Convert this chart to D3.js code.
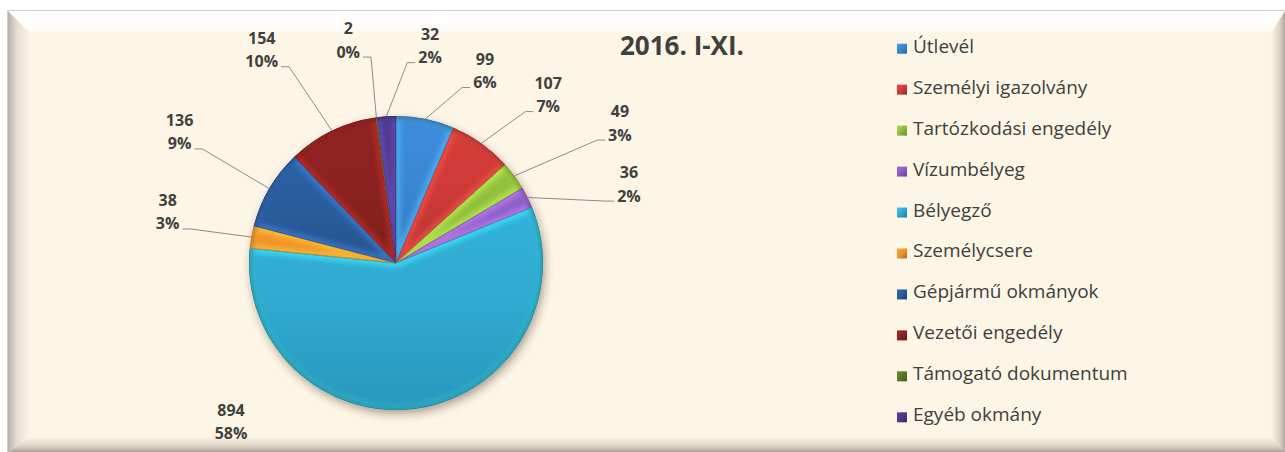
<!DOCTYPE html>
<html>
<head>
<meta charset="utf-8">
<script src="https://cdn.jsdelivr.net/npm/d3@7"></script>
<style>
  body { margin: 0; background: #fff; }
  svg { display: block; }
</style>
</head>
<body>
<svg width="1285" height="452"></svg>
<script>
const categories = ["Útlevél", "Személyi igazolvány", "Tartózkodási engedély", "Vízumbélyeg", "Bélyegző",
    "Személycsere", "Gépjármű okmányok", "Vezetői engedély", "Támogató dokumentum", "Egyéb okmány"];
const values = [99, 107, 49, 36, 894, 38, 136, 154, 2, 32];
const percents = [6, 7, 3, 2, 58, 3, 9, 10, 0, 2];
const title = "2016. I-XI.";

const colors = ["#3a86d2", "#cc3a36", "#8dbc3c", "#8a5cc2", "#2fa8d0",
    "#f0902a", "#2a5c9c", "#8a2220", "#5a7624", "#4a3886"];

// where Excel put each data label (polar, around the pie centre)
const labelAngle = [24.8, 42.1, 58.0, 71.3, 226.1, 282.6, 301.2, 327.8, 347.9, 8.9];
const labelRadius = [212, 227, 264, 246, 229, 234, 253, 252, 228, 220];
const labelLeader = [true, true, true, true, false, true, true, true, true, true];

const width = 1285, height = 452;
const cx = 396, cy = 263, radius = 147;
const svg = d3.select("svg");
const defs = svg.append("defs");

// ---- frame with bevel ----
function linGrad(id, x1, y1, x2, y2, stops) {
    const g = defs.append("linearGradient").attr("id", id)
        .attr("x1", x1).attr("y1", y1).attr("x2", x2).attr("y2", y2);
    stops.forEach(s => g.append("stop").attr("offset", s[0]).attr("stop-color", s[1]));
}
linGrad("bvTop", 0, 0, 0, 1, [[0, "#ffffff"], [0.8, "#fffdf8"], [1, "#fdf6ea"]]);
linGrad("bvLeft", 0, 0, 1, 0, [[0, "#b9b1a9"], [0.4, "#e6ddd1"], [1, "#fdf5e6"]]);
linGrad("bvRight", 0, 0, 1, 0, [[0, "#fdf5e6"], [0.6, "#ddd3c6"], [1, "#b0a8a0"]]);
linGrad("bvBottom", 0, 0, 0, 1, [[0, "#fdf5e6"], [0.6, "#ddd3c6"], [1, "#aaa29a"]]);

const fx0 = 8, fy0 = 11, fx1 = width, fy1 = height;
const bl = 22, bt = 22, br = 14, bb = 15;
svg.append("rect").attr("x", fx0 - 1).attr("y", fy0 - 1)
    .attr("width", fx1 - fx0 + 1).attr("height", fy1 - fy0 + 1).attr("fill", "#d6cec6");
svg.append("rect").attr("x", fx0).attr("y", fy0)
    .attr("width", fx1 - fx0).attr("height", fy1 - fy0).attr("fill", "#fdf5e6");
const bevels = [
    ["bvTop", [[fx0, fy0], [fx1, fy0], [fx1 - br, fy0 + bt], [fx0 + bl, fy0 + bt]]],
    ["bvLeft", [[fx0, fy0], [fx0 + bl, fy0 + bt], [fx0 + bl, fy1 - bb], [fx0, fy1]]],
    ["bvRight", [[fx1, fy0], [fx1, fy1], [fx1 - br, fy1 - bb], [fx1 - br, fy0 + bt]]],
    ["bvBottom", [[fx0, fy1], [fx0 + bl, fy1 - bb], [fx1 - br, fy1 - bb], [fx1, fy1]]]
];
svg.selectAll("polygon.bevel").data(bevels).enter().append("polygon")
    .attr("class", "bevel")
    .attr("points", d => d[1].map(p => p.join(",")).join(" "))
    .attr("fill", d => `url(#${d[0]})`);

// ---- filters ----
const shadow = defs.append("filter").attr("id", "shadow")
    .attr("x", "-20%").attr("y", "-20%").attr("width", "140%").attr("height", "140%");
shadow.append("feDropShadow").attr("dx", 2).attr("dy", 4).attr("stdDeviation", 4)
    .attr("flood-color", "#3a2a1a").attr("flood-opacity", 0.4);

defs.append("filter").attr("id", "soft")
    .attr("x", "-20%").attr("y", "-20%").attr("width", "140%").attr("height", "140%")
    .append("feGaussianBlur").attr("stdDeviation", 2.5);

colors.forEach((c, i) => {
    const base = d3.color(c);
    linGrad("sl" + i, 0, 0, 0, 1, [[0, base.brighter(0.15)], [0.5, base], [1, base.darker(0.3)]]);
    linGrad("lg" + i, 0, 0, 1, 1, [[0, base.brighter(0.5)], [0.5, base], [1, base.darker(0.9)]]);
});

// ---- pie ----
const data = categories.map((c, i) => ({ name: c, value: values[i], pct: percents[i], i }));
const pie = d3.pie().sort(null).value(d => d.value);
const arc = d3.arc().innerRadius(0).outerRadius(radius);
const arcs = pie(data);

const pieG = svg.append("g").attr("transform", `translate(${cx},${cy})`)
    .attr("filter", "url(#shadow)");

arcs.forEach((d, k) => {
    const base = d3.color(colors[d.data.i]);
    defs.append("clipPath").attr("id", "clip" + k).append("path").attr("d", arc(d));
    const g = pieG.append("g").attr("clip-path", `url(#clip${k})`);
    g.append("path").attr("d", arc(d)).attr("fill", `url(#sl${d.data.i})`);
    // light bevel along the edges
    g.append("path").attr("d", arc(d))
        .attr("fill", "none")
        .attr("stroke", base.brighter(1.1))
        .attr("stroke-width", 9)
        .attr("stroke-opacity", 0.55)
        .attr("filter", "url(#soft)");
    // dark rim on the outside
    g.append("circle").attr("r", radius)
        .attr("fill", "none")
        .attr("stroke", base.darker(1.2))
        .attr("stroke-width", 7)
        .attr("stroke-opacity", 0.6)
        .attr("filter", "url(#soft)");
    g.append("path").attr("d", arc(d))
        .attr("fill", "none")
        .attr("stroke", base.darker(1))
        .attr("stroke-width", 0.8);
});

// ---- data labels ----
const rad = a => a * Math.PI / 180;
const labelG = svg.append("g");
arcs.forEach((d, k) => {
    const a = rad(labelAngle[k]);
    const lx = cx + labelRadius[k] * Math.sin(a);
    const ly = cy - labelRadius[k] * Math.cos(a);
    const t = labelG.append("text")
        .attr("text-anchor", "middle")
        .attr("font-family", "'Open Sans', sans-serif")
        .attr("font-weight", "bold")
        .attr("font-size", 16)
        .attr("fill", "#404040");
    t.append("tspan").attr("x", lx).attr("y", ly - 6).text(d.data.value);
    const p = t.append("tspan").attr("x", lx).attr("y", ly + 17.5).text(d.data.pct + "%");

    if (!labelLeader[k]) return;
    const mid = (d.startAngle + d.endAngle) / 2;
    const ex = cx + radius * Math.sin(mid), ey = cy - radius * Math.cos(mid);
    const hw = p.node().getComputedTextLength() / 2;
    const side = lx < ex ? 1 : -1;
    const hy = ly + 17;
    const h1 = lx + side * (hw + 3), h2 = lx + side * (hw + 11);
    labelG.append("path")
        .attr("d", d3.line()([[h1, hy], [h2, hy], [ex, ey]]))
        .attr("fill", "none")
        .attr("stroke", "#8c8c8c")
        .attr("stroke-width", 1);
});

// ---- title ----
svg.append("text")
    .attr("x", 682).attr("y", 55)
    .attr("text-anchor", "middle")
    .attr("font-family", "'Open Sans', sans-serif")
    .attr("font-weight", "bold")
    .attr("font-size", 26)
    .attr("fill", "#404040")
    .text(title);

// ---- legend ----
const legendY = d3.scalePoint().domain(categories).range([48.7, 417.3]);
const legend = svg.append("g").selectAll("g").data(data).enter().append("g")
    .attr("transform", d => `translate(897,${legendY(d.name)})`);
legend.append("rect")
    .attr("x", 0).attr("y", -5).attr("width", 10).attr("height", 10)
    .attr("fill", d => `url(#lg${d.i})`);
legend.append("text")
    .attr("x", 16).attr("y", 4)
    .attr("font-family", "'Open Sans', sans-serif")
    .attr("font-size", 19)
    .attr("fill", "#404040")
    .text(d => d.name);
</script>
</body>
</html>
